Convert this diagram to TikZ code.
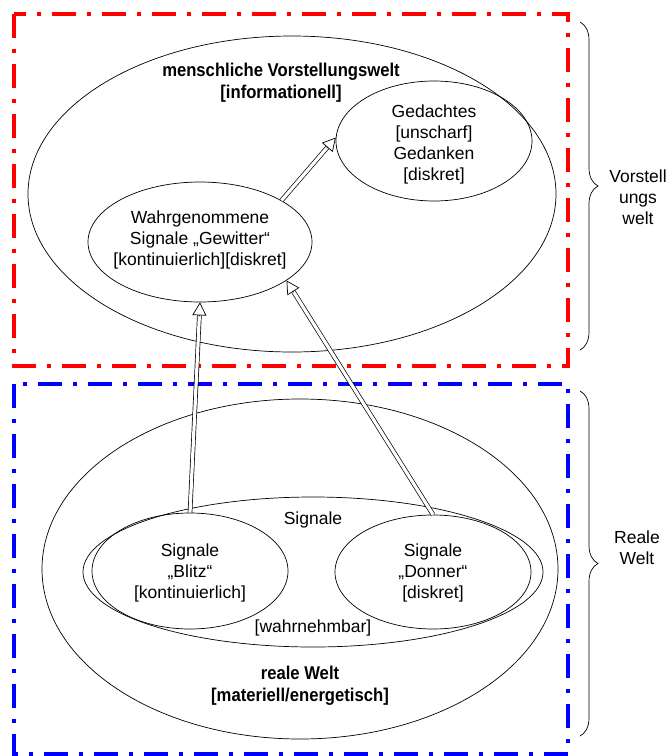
\documentclass[tikz,border=0pt]{standalone}
\usepackage{fontspec}
\setmainfont{Liberation Sans}
\newfontfamily\narrowsans[FakeStretch=0.9]{Liberation Sans}
\usetikzlibrary{shapes.geometric,arrows.meta,calc,decorations.pathreplacing}
\begin{document}
\begin{tikzpicture}[x=1pt,y=-1pt,
  ell/.style={ellipse, draw, line width=0.7pt, inner sep=0pt},
  txt/.style={align=center, font=\fontsize{17.5}{21}\selectfont, inner sep=0pt},
  btxt/.style={align=center, font=\narrowsans\bfseries\fontsize{18.5}{22}\selectfont, inner sep=0pt},
  frame/.style={line width=4pt, dash pattern=on 24pt off 11pt on 4pt off 11pt},
  shaft/.style={line width=0.7pt, double=white, double distance=3.2pt},
  head/.style={line width=0.7pt, -{Triangle[open,length=13pt,width=14pt]}},
  brc/.style={decorate, decoration={brace, amplitude=18pt}, line width=0.7pt}
]
\useasboundingbox (0,0) rectangle (671,756);

\draw[frame, red] (14,14) rectangle (568,366);
\draw[frame, blue] (14,384) rectangle (568,754);

% ellipses
\node[ell, minimum width=528pt, minimum height=316pt] (mv) at (292,194) {};
\node[ell, minimum width=196pt, minimum height=120pt] (ged) at (434,141) {};
\node[ell, minimum width=224pt, minimum height=120pt] (wahr) at (200,242) {};
\node[ell, minimum width=516pt, minimum height=340pt] (rw) at (300,569) {};
\node[ell, minimum width=460pt, minimum height=150pt] (sig) at (313,572) {};
\node[ell, minimum width=196pt, minimum height=116pt] (blitz) at (190,571) {};
\node[ell, minimum width=196pt, minimum height=114pt] (donner) at (433,572) {};

% arrows
\draw[shaft] (blitz.north) -- ($(wahr.south)!13pt!(blitz.north)$);
\draw[head] ($(wahr.south)!14pt!(blitz.north)$) -- (wahr.south);
\draw[shaft] (donner.north) -- ($(wahr.-24.6)!13pt!(donner.north)$);
\draw[head] ($(wahr.-24.6)!14pt!(donner.north)$) -- (wahr.-24.6);
\draw[shaft] (wahr.27.7) -- ($(ged.178)!13pt!(wahr.27.7)$);
\draw[head] ($(ged.178)!14pt!(wahr.27.7)$) -- (ged.178);

% texts
\node[btxt] (mvt) at (281,83) {menschliche Vorstellungswelt\\{[informationell]}};
\node[txt] (gedt) at (434,144) {Gedachtes\\{[unscharf]}\\Gedanken\\{[diskret]}};
\node[txt] (wahrt) at (200,240) {Wahrgenommene\\Signale „Gewitter“\\{[kontinuierlich][diskret]}};
\node[txt] (sigt) at (313,520) {Signale};
\node[txt] (blitzt) at (190,573) {Signale\\„Blitz“\\{[kontinuierlich]}};
\node[txt] (donnert) at (433,573) {Signale\\„Donner“\\{[diskret]}};
\node[txt] (wahrnt) at (313,628) {[wahrnehmbar]};
\node[btxt] (rwt) at (300,686) {reale Welt\\{[materiell/energetisch]}};

% braces
\draw[brc] (580,22) -- (580,350);
\draw[brc] (580,391) -- (580,736);
\node[txt] (vwt) at (638,197) {Vorstell\\ungs\\welt};
\node[txt] (rwl) at (637,548) {Reale\\Welt};
\end{tikzpicture}
\end{document}
